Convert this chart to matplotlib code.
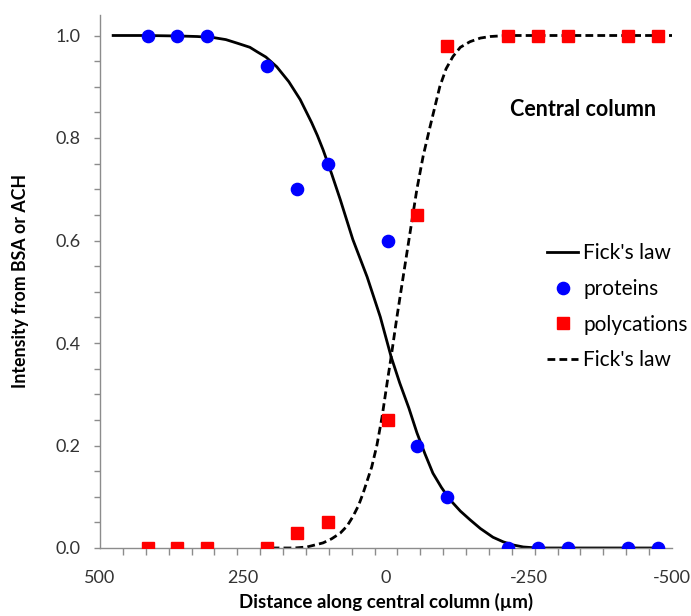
import numpy as np
import matplotlib
matplotlib.use("Agg")
import matplotlib.pyplot as plt
from matplotlib.ticker import FixedLocator, MultipleLocator
from matplotlib.lines import Line2D

# ---- data ----
sample_x = [416, 365, 313, 208, 156, 102, -3, -54, -106, -213, -266, -318, -423, -476]
proteins = [1.0, 1.0, 1.0, 0.94, 0.70, 0.75, 0.60, 0.20, 0.10, 0.0, 0.0, 0.0, 0.0, 0.0]
polycations = [0.0, 0.0, 0.0, 0.0, 0.03, 0.05, 0.25, 0.65, 0.98, 1.0, 1.0, 1.0, 1.0, 1.0]

fick_protein_x = [477, 420, 360, 330, 302, 280, 260, 238, 225, 210, 191, 170, 150, 130, 120,
                  110, 95, 80, 58, 33, 10, -9, -24, -40, -54, -68, -82, -97, -112, -130,
                  -147, -165, -187, -205, -222, -240, -264, -320, -400, -474]
fick_protein_y = [1.0, 1.0, 0.999, 0.998, 0.996, 0.992, 0.985, 0.977, 0.968, 0.958, 0.939,
                  0.91, 0.875, 0.83, 0.805, 0.777, 0.73, 0.680, 0.602, 0.529, 0.451, 0.373,
                  0.322, 0.273, 0.225, 0.184, 0.146, 0.118, 0.094, 0.072, 0.055, 0.038,
                  0.021, 0.012, 0.006, 0.002, 0.0, 0.0, 0.0, 0.0]

fick_poly_x = [200, 160, 138, 110, 95, 80, 68, 58, 48, 40, 25, 16, 7, -3, -9, -19, -30, -42,
               -54, -65, -77, -94, -105, -117, -130, -147, -165, -182, -212, -260, -320,
               -400, -500]
fick_poly_y = [0.0, 0.0, 0.002, 0.010, 0.018, 0.029, 0.043, 0.061, 0.083, 0.107, 0.158, 0.200,
               0.255, 0.330, 0.373, 0.45, 0.529, 0.615, 0.700, 0.765, 0.822, 0.900, 0.935,
               0.959, 0.977, 0.988, 0.995, 0.998, 1.0, 1.0, 1.0, 1.0, 1.0]

x_ticks = [500, 250, 0, -250, -500]
y_ticks = [0.0, 0.2, 0.4, 0.6, 0.8, 1.0]

plt.rcParams['font.family'] = ['Lato', 'DejaVu Sans']

W, H = 691, 616
fig = plt.figure(figsize=(W / 100, H / 100), dpi=100)
ax = fig.add_axes([100 / W, 1 - 548 / H, 572 / W, 533 / H])

dash = (0, (2.8, 1.5))
ax.plot(fick_protein_x, fick_protein_y, color='black', lw=2.0, zorder=2)
ax.plot(fick_poly_x, fick_poly_y, color='black', lw=2.0, ls=dash, zorder=2)
ax.plot(sample_x, proteins, ls='none', marker='o', ms=8.8, color='#0000FF', mec='#0000FF', zorder=3)
ax.plot(sample_x, polycations, ls='none', marker='s', ms=8.0, color='#FF0000', mec='#FF0000', zorder=3)

ax.set_xlim(500, -500)
ax.set_ylim(0, 1.04)
for s in ('top', 'right'):
    ax.spines[s].set_visible(False)
for s in ('left', 'bottom'):
    ax.spines[s].set_color('#8c8c8c')
    ax.spines[s].set_linewidth(1.0)

ax.set_xticks(x_ticks)
ax.set_xticklabels(['500', '250', '0', '-250', '-500'])
ax.xaxis.set_minor_locator(FixedLocator(np.arange(-500, 501, 40)))
ax.tick_params(axis='x', which='major', length=0, pad=15.5, labelsize=13, labelcolor='#333333')
ax.tick_params(axis='x', which='minor', length=5, width=1, color='#8c8c8c', direction='out')

ax.set_yticks(y_ticks)
ax.set_yticklabels(['0.0', '0.2', '0.4', '0.6', '0.8', '1.0'])
ax.yaxis.set_minor_locator(MultipleLocator(0.05))
ax.tick_params(axis='y', which='both', length=4, width=1, color='#8c8c8c', direction='out')
ax.tick_params(axis='y', which='major', pad=10, labelsize=13, labelcolor='#333333')

ax.set_xlabel('Distance along central column (µm)', fontsize=13.5, fontweight='bold', labelpad=5)
ax.set_ylabel('Intensity from BSA or ACH', fontsize=12.8, fontweight='bold', labelpad=19)

ax.text(583 / W, 1 - 110 / H, 'Central column', transform=fig.transFigure,
        ha='center', va='center', fontsize=15.5, fontweight='bold')

handles = [
    Line2D([], [], color='black', lw=2.0),
    Line2D([], [], ls='none', marker='o', ms=8.8, color='#0000FF'),
    Line2D([], [], ls='none', marker='s', ms=8.0, color='#FF0000'),
    Line2D([], [], color='black', lw=2.0, ls=dash),
]
labels = ["Fick's law", 'proteins', 'polycations', "Fick's law"]
fig.legend(handles, labels, loc='upper left', bbox_to_anchor=(547 / W, 1 - 243 / H),
           frameon=False, fontsize=15, handlelength=1.5, handletextpad=0.25,
           labelspacing=0.76, borderpad=0, borderaxespad=0)

fig.savefig('out.png', dpi=100)
